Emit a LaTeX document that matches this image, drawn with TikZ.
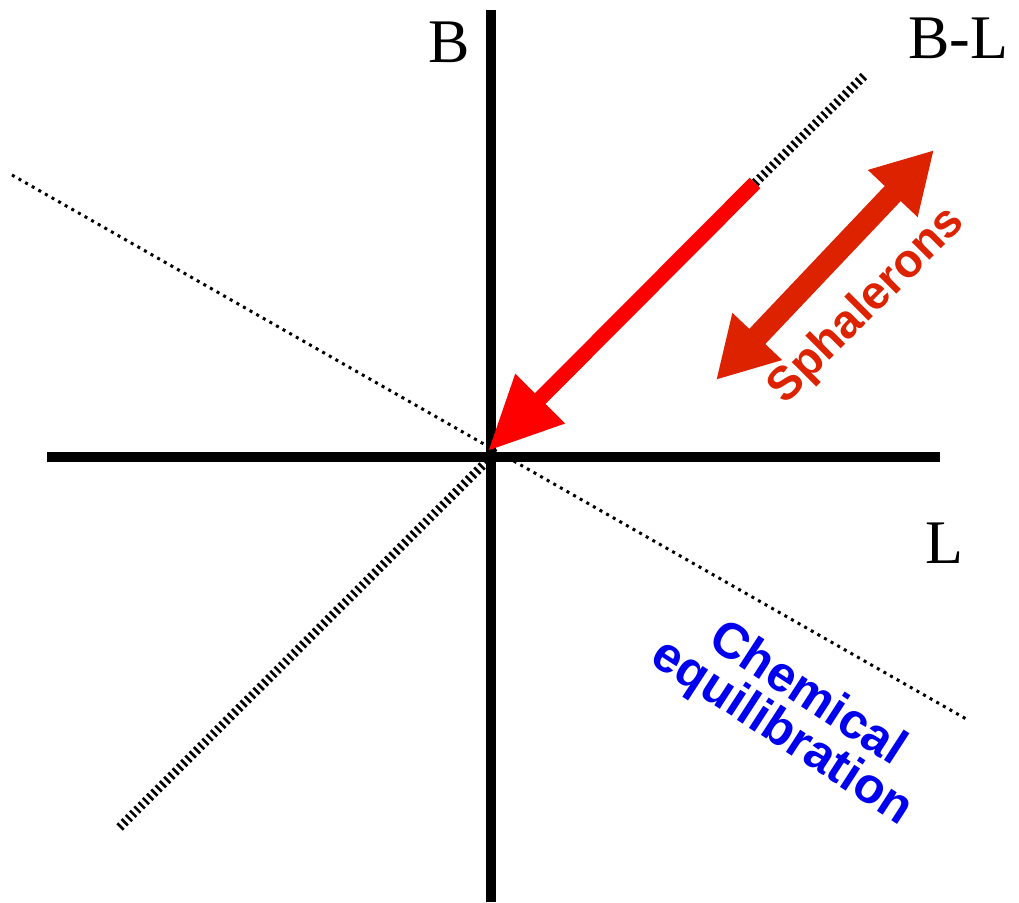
\documentclass[tikz,border=0pt]{standalone}
\usepackage{fontspec}
\setmainfont{Liberation Serif}
\newfontfamily\labelsans{Liberation Sans}
\usetikzlibrary{positioning,arrows.meta,calc}
\definecolor{spRed}{RGB}{221,34,0}
\definecolor{eqBlue}{RGB}{0,0,238}

\begin{document}
\begin{tikzpicture}[
    x=1pt, y=-1pt,
    axis/.style={line width=10pt},
    hatched/.style={line width=9pt, dash pattern=on 2.6pt off 3.4pt},
    eqline/.style={line width=3pt, dash pattern=on 3pt off 4.6pt},
    axis label/.style={font=\fontsize{62}{66}\selectfont, inner sep=0pt},
    note/.style={font=\labelsans\bfseries\fontsize{50}{52}\selectfont, inner sep=0pt, align=center}
]
  \useasboundingbox (0,0) rectangle (1019,902);

  % axes
  \coordinate (o) at (491,457);
  \coordinate (btop) at (491,10);
  \coordinate (bbot) at (491,902);
  \coordinate (lleft) at (47,457);
  \coordinate (lright) at (940,457);
  \draw[axis] (btop) -- (bbot);
  \draw[axis] (lleft) -- (lright);

  % B-L direction and the orthogonal line
  \coordinate (bl start) at (755,183);
  \coordinate (bl end) at (866,74);
  \coordinate (bl low) at (118,829);
  \coordinate (eq a) at (12,175);
  \coordinate (eq b) at (968,720);
  \draw[eqline] (eq a) -- (eq b);
  \draw[hatched] (bl start) -- (bl end);
  \draw[hatched] (o) -- (bl low);

  % washout arrow
  \draw[-{Triangle[length=74pt, width=66pt]}, red, line width=15pt] (bl start) -- ($(o)+(-3,-6)$);

  % sphalerons
  \coordinate (sp a) at (716,380);
  \coordinate (sp b) at (934,150);
  \draw[{Triangle[length=60pt, width=64pt]}-{Triangle[length=60pt, width=64pt]}, spRed, line width=22pt] (sp a) -- (sp b);
  \node[note, text=spRed, rotate=45, font=\labelsans\bfseries\fontsize{47}{50}\selectfont] (sph) at (867,306) {Sphalerons};
  \node[note, text=eqBlue, rotate=-33] (chem) at (794,714) {Chemical\\[-6pt]equilibration};

  \node[axis label] (lb) at (449,42) {B};
  \node[axis label] (lbl) at (958,38) {B-L};
  \node[axis label] (ll) at (944,543) {L};
\end{tikzpicture}
\end{document}
